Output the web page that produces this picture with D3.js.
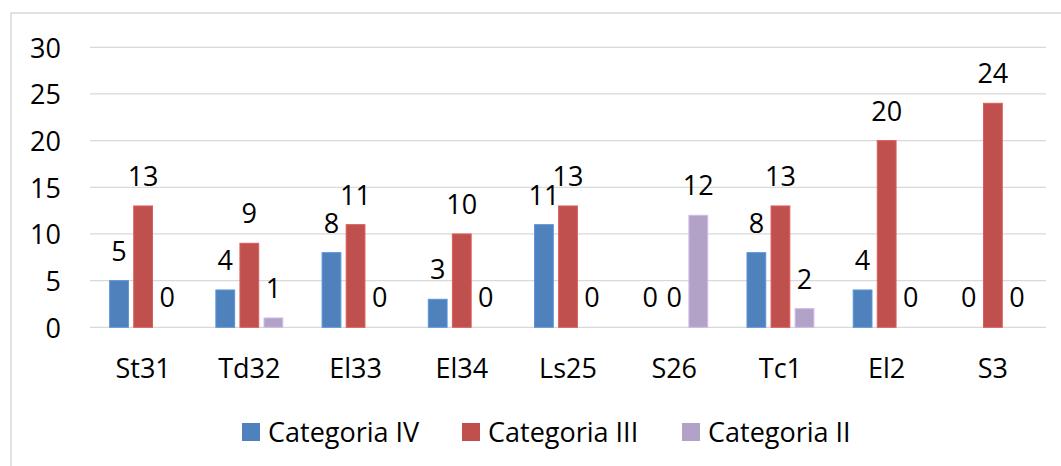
<!DOCTYPE html>
<html><head><meta charset="utf-8">
<script src="https://cdn.jsdelivr.net/npm/d3@7"></script>
<style>body{margin:0;background:#fff}svg{display:block}text{font-family:"Open Sans",sans-serif;fill:#000}</style>
</head><body>
<svg id="c" width="1061" height="466"></svg>
<script>
const categories = ["St31","Td32","El33","El34","Ls25","S26","Tc1","El2","S3"];
const seriesNames = ["Categoria IV","Categoria III","Categoria II"];
const catIV  = [5,4,8,3,11,0,8,4,0];
const catIII = [13,9,11,10,13,0,13,20,24];
const catII  = [0,1,0,0,0,12,2,0,0];
const yTicks = [0,5,10,15,20,25,30];
const colors = ["#4F81BD","#C0504D","#B3A2C7"];
const seriesValues = [catIV, catIII, catII];

(function(){
const svg = d3.select("#c");
const fs = 27;
svg.append("rect").attr("x",11).attr("y",13).attr("width",1070).attr("height",480)
  .attr("fill","none").attr("stroke","#d9d9d9").attr("stroke-width",1.5);

const pLeft=90, pRight=1046, pTop=47.3, pBottom=327.3;
const y = d3.scaleLinear().domain([0,30]).range([pBottom, pTop]);
const x0 = d3.scaleBand().domain(categories).range([pLeft,pRight]).paddingInner(0.32).paddingOuter(0.16);
const x1 = d3.scaleBand().domain(seriesNames).range([0,x0.bandwidth()]).paddingInner(0.22).paddingOuter(0.11);

svg.append("g").selectAll("line").data(yTicks).join("line")
  .attr("x1",pLeft).attr("x2",pRight).attr("y1",d=>y(d)).attr("y2",d=>y(d))
  .attr("stroke","#d9d9d9").attr("stroke-width",1.3);

const yAxis = d3.axisLeft(y).tickValues(yTicks).tickSize(0).tickPadding(0);
const ga = svg.append("g").attr("transform",`translate(61,0)`).call(yAxis);
ga.select(".domain").remove();
ga.selectAll("text").attr("font-size",fs).attr("font-family","Open Sans").attr("fill","#000").attr("dy","0.36em");

const xAxis = d3.axisBottom(x0).tickSize(0).tickPadding(0);
const gx = svg.append("g").attr("transform",`translate(0,${pBottom})`).call(xAxis);
gx.select(".domain").remove();
gx.selectAll("text").attr("font-size",fs).attr("font-family","Open Sans").attr("fill","#000").attr("dy",null).attr("y",51);

const rows = categories.map((c,i)=>({c, vals: seriesNames.map((s,j)=>({s, v: seriesValues[j][i], col: colors[j]}))}));
const g = svg.append("g").selectAll("g").data(rows).join("g").attr("transform",d=>`translate(${x0(d.c)},0)`);
g.selectAll("rect").data(d=>d.vals).join("rect")
  .attr("x",d=>x1(d.s)).attr("width",x1.bandwidth())
  .attr("y",d=>y(d.v)).attr("height",d=>y(0)-y(d.v))
  .attr("fill",d=>d.col).attr("stroke",d=>d3.color(d.col).brighter(0.4)).attr("stroke-width",d=>d.v>0?1:0);
g.selectAll("text").data(d=>d.vals).join("text")
  .attr("x",d=>x1(d.s)+x1.bandwidth()/2).attr("y",d=>y(d.v)-20)
  .attr("text-anchor","middle").attr("font-size",fs).text(d=>d.v);

const lg = svg.append("g");
const legX = [242, 462, 682];
seriesNames.forEach((s,i)=>{
  lg.append("rect").attr("x",legX[i]).attr("y",423).attr("width",18).attr("height",18).attr("fill",colors[i]);
  lg.append("text").attr("x",legX[i]+26).attr("y",442).attr("font-size",fs).text(s);
});
})();
</script>
</body></html>
